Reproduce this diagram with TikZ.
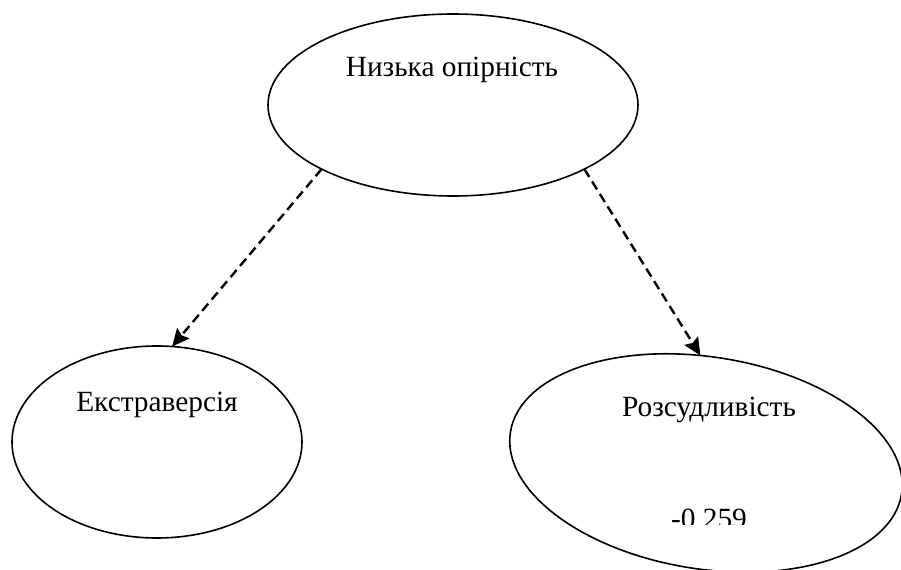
\documentclass[tikz,border=0pt]{standalone}
\usepackage{fontspec}
\setmainfont{Liberation Serif}
\usepackage{tikz}
\usetikzlibrary{arrows.meta,positioning,shapes.geometric}
\newcommand{\lbl}[1]{\fontsize{22}{26}\selectfont #1}

\begin{document}
\begin{tikzpicture}[x=0.75pt, y=-0.75pt,
    ell/.style={draw, ellipse, line width=1.2pt, inner sep=0pt, outer sep=0pt},
    dep/.style={line width=1.8pt, dash pattern=on 7pt off 4pt,
                -{Stealth[length=13pt, width=12pt, inset=2pt]}}]
    \useasboundingbox (0, 0) rectangle (901, 570);

    \node[ell, minimum width=277.5pt, minimum height=136.5pt] (opir) at (453, 105) {};
    \node[ell, minimum width=217.5pt, minimum height=144pt] (ekstra) at (157, 442) {};
    \node[ell, minimum width=297pt, minimum height=159pt, rotate=-9] (rozsud) at (706, 463) {};

    \node (opirt) at (452, 70) {\lbl{Низька опірність}};
    \node (ekstrat) at (157, 405) {\lbl{Екстраверсія}};
    \node (rozsudt) at (709, 410) {\lbl{Розсудливість}};
    \begin{scope}
        \clip (640, 500) rectangle (780, 525);
        \node (koef) at (709, 521) {\lbl{-0,259}};
    \end{scope}

    \draw[dep] (opir.206) -- (ekstra.81);
    \draw[dep] (opir.334) -- (rozsud.102);

\end{tikzpicture}
\end{document}
